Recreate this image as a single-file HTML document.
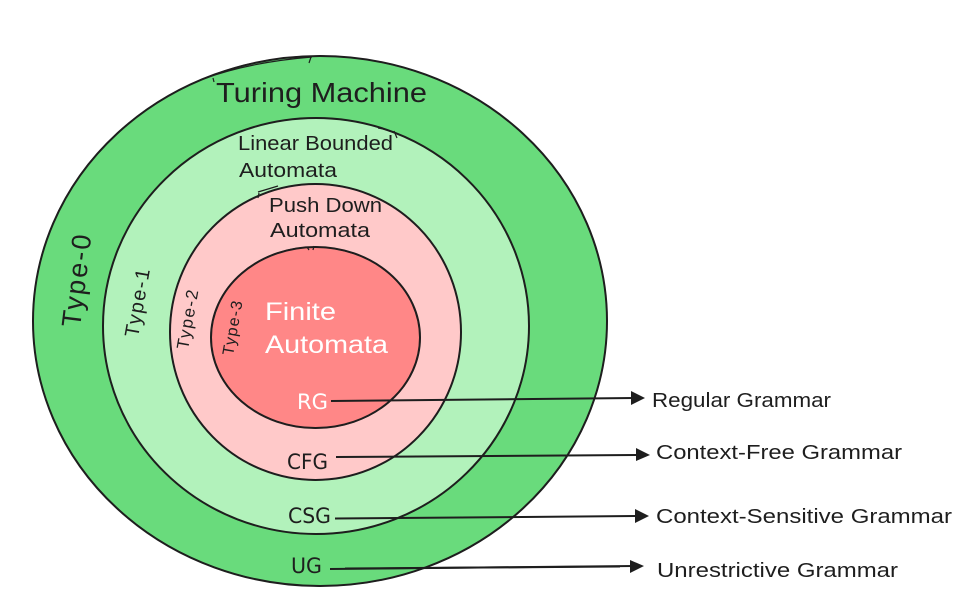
<!DOCTYPE html>
<html><head><meta charset="utf-8"><style>
html,body{margin:0;padding:0;background:#fff;width:963px;height:612px;overflow:hidden}
svg{display:block}
text{font-family:"Liberation Sans","DejaVu Sans",sans-serif;fill:#1e1e1e}
.d{font-family:"DejaVu Sans","Liberation Sans",sans-serif;font-size:21px}
.w{fill:#fff}
</style></head><body>
<svg width="963" height="612" viewBox="0 0 963 612" xmlns="http://www.w3.org/2000/svg">
<g stroke="#1e1e1e" stroke-width="2">
<ellipse cx="320" cy="321" rx="287" ry="265" fill="#69db7c"/>
<ellipse cx="320" cy="321" rx="287" ry="265" fill="none" stroke-width="1.2" transform="rotate(.5 320 321)"/>
<ellipse cx="316" cy="326" rx="213" ry="208" fill="#b2f2bb"/>
<ellipse cx="316" cy="326" rx="213" ry="208" fill="none" stroke-width="1.2" transform="rotate(.7 316 326)"/>
<ellipse cx="315.5" cy="332" rx="145.5" ry="148" fill="#ffc9c9"/>
<ellipse cx="315.5" cy="332" rx="145.5" ry="148" fill="none" stroke-width="1.2" transform="rotate(.9 315.5 332)"/>
<ellipse cx="315.5" cy="337.5" rx="104.5" ry="90.5" fill="#ff8787"/>
<ellipse cx="315.5" cy="337.5" rx="104.5" ry="90.5" fill="none" stroke-width="1.2" transform="rotate(1.1 315.5 337.5)"/>
</g>
<g fill="none" stroke="#1e1e1e" stroke-width="1.2">
<path d="M203 79 Q250 62 312 57 M213 78 L214 82 M311 57 L309 63"/>
<path d="M378 128 Q390 130 400 135 M394 131 L397 138"/>
<path d="M258 192 L278 186 M259 193 L258 198"/>
<path d="M307 247 L309 250 M314 246 L313 250"/>
</g>
<text x="216" y="102" font-size="28" textLength="211" lengthAdjust="spacingAndGlyphs">Turing Machine</text>
<text x="238" y="150" font-size="20" textLength="155" lengthAdjust="spacingAndGlyphs">Linear Bounded</text>
<text x="239" y="177" font-size="20" textLength="98" lengthAdjust="spacingAndGlyphs">Automata</text>
<text x="269" y="212" font-size="20" textLength="113" lengthAdjust="spacingAndGlyphs">Push Down</text>
<text x="270" y="237" font-size="20" textLength="100" lengthAdjust="spacingAndGlyphs">Automata</text>
<text class="w" x="265" y="320" font-size="25" textLength="71" lengthAdjust="spacingAndGlyphs">Finite</text>
<text class="w" x="265" y="353" font-size="25" textLength="123" lengthAdjust="spacingAndGlyphs">Automata</text>
<text transform="translate(80 328) rotate(-83)" font-size="27" textLength="93" lengthAdjust="spacing">Type-0</text>
<text transform="translate(138 338) rotate(-80)" font-size="20" textLength="69" lengthAdjust="spacing">Type-1</text>
<text transform="translate(188 350) rotate(-80)" font-size="17" textLength="60" lengthAdjust="spacing">Type-2</text>
<text transform="translate(233 356) rotate(-80)" font-size="16" textLength="55" lengthAdjust="spacing">Type-3</text>
<text class="d w" x="297" y="409" textLength="31" lengthAdjust="spacingAndGlyphs">RG</text>
<text class="d" x="287" y="469" textLength="41" lengthAdjust="spacingAndGlyphs">CFG</text>
<text class="d" x="288" y="523" textLength="43" lengthAdjust="spacingAndGlyphs">CSG</text>
<text class="d" x="291" y="573" textLength="31" lengthAdjust="spacingAndGlyphs">UG</text>
<g stroke="#1e1e1e" stroke-width="2" fill="none">
<path d="M331 401 L634 398"/>
<path d="M336 457 L640 455"/>
<path d="M335 518.5 L638 516"/>
<path d="M330 569 L634 566"/>
<path d="M345 568.5 L620 566.5"/>
</g>
<g fill="#1e1e1e">
<polygon points="631,391 645,398 631,405"/>
<polygon points="636,448 650,455 636,461"/>
<polygon points="635,509 649,516 635,523"/>
<polygon points="630,560 644,566 630,573"/>
</g>
<text x="652" y="407" font-size="20" textLength="179" lengthAdjust="spacingAndGlyphs">Regular Grammar</text>
<text x="656" y="459" font-size="20" textLength="246" lengthAdjust="spacingAndGlyphs">Context-Free Grammar</text>
<text x="656" y="523" font-size="20" textLength="296" lengthAdjust="spacingAndGlyphs">Context-Sensitive Grammar</text>
<text x="657" y="577" font-size="20" textLength="241" lengthAdjust="spacingAndGlyphs">Unrestrictive Grammar</text>
</svg>
</body></html>
